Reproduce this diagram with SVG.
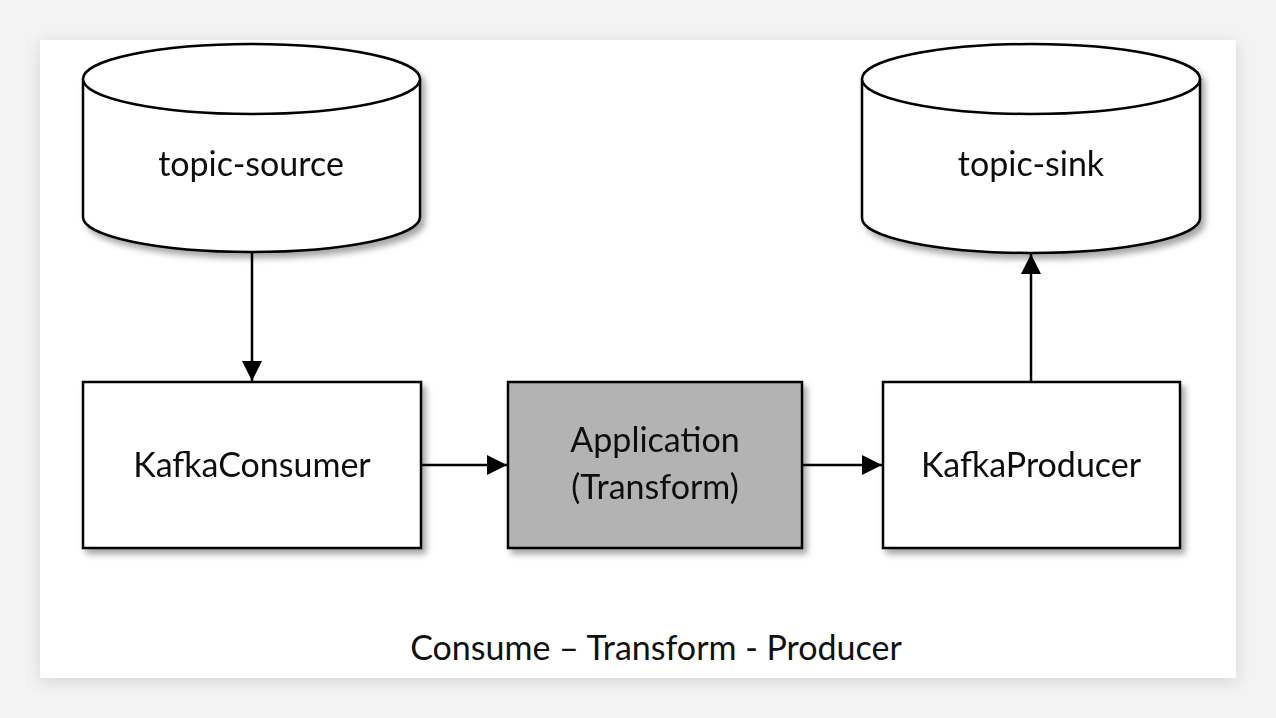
<svg xmlns="http://www.w3.org/2000/svg" width="1276" height="718" viewBox="0 0 1276 718">
<defs>
<filter id="sh" x="-10%" y="-10%" width="130%" height="130%">
<feDropShadow dx="4" dy="5" stdDeviation="3" flood-color="#000" flood-opacity="0.35"/>
</filter>
<filter id="cardsh" x="-5%" y="-5%" width="110%" height="115%">
<feDropShadow dx="0" dy="4" stdDeviation="8" flood-color="#000" flood-opacity="0.12"/>
</filter>
<marker id="ah" viewBox="0 0 10 10" refX="10" refY="5" markerWidth="8" markerHeight="8" markerUnits="strokeWidth" orient="auto">
<path d="M0,0 L10,5 L0,10 z" fill="#000"/>
</marker>
</defs>
<style>
.shape{fill:#fff;stroke:#000;stroke-width:2.5}
.app{fill:#b3b3b3;stroke:#000;stroke-width:2.5}
.lbl{font-family:Lato,"Open Sans","Liberation Sans",sans-serif;font-size:34px;fill:#111;text-anchor:middle}
.conn{stroke:#000;stroke-width:2.5;fill:none;marker-end:url(#ah)}
</style>
<rect width="1276" height="718" fill="#f3f3f3"/>
<rect x="40" y="40" width="1196" height="638" fill="#fff" filter="url(#cardsh)"/>
<g id="topic-source" filter="url(#sh)">
<path class="shape" d="M83,79 L83,217 A168.5,35 0 0 0 420,217 L420,79 A168.5,35 0 0 0 83,79 Z"/>
<path class="shape" d="M83,79 A168.5,35 0 0 0 420,79" fill="none"/>
<text class="lbl" x="251" y="176">topic-source</text>
</g>
<g id="topic-sink" filter="url(#sh)">
<path class="shape" d="M862,79 L862,218 A169,35 0 0 0 1200,218 L1200,79 A169,35 0 0 0 862,79 Z"/>
<path class="shape" d="M862,79 A169,35 0 0 0 1200,79" fill="none"/>
<text class="lbl" x="1031" y="176">topic-sink</text>
</g>
<g id="kafka-consumer" filter="url(#sh)">
<rect class="shape" x="83" y="382" width="338" height="166"/>
<text class="lbl" x="252" y="477">KafkaConsumer</text>
</g>
<g id="application" filter="url(#sh)">
<rect class="app" x="508" y="382" width="294" height="166"/>
<text class="lbl" x="655" y="452">Application</text>
<text class="lbl" x="655" y="499">(Transform)</text>
</g>
<g id="kafka-producer" filter="url(#sh)">
<rect class="shape" x="883" y="382" width="297" height="166"/>
<text class="lbl" x="1031" y="477">KafkaProducer</text>
</g>
<g id="connectors">
<line class="conn" x1="252" y1="253" x2="252" y2="381"/>
<line class="conn" x1="422" y1="465" x2="507" y2="465"/>
<line class="conn" x1="802" y1="465" x2="882" y2="465"/>
<line class="conn" x1="1031" y1="381" x2="1031" y2="254"/>
</g>
<text class="lbl" x="656" y="660">Consume – Transform - Producer</text>
</svg>
